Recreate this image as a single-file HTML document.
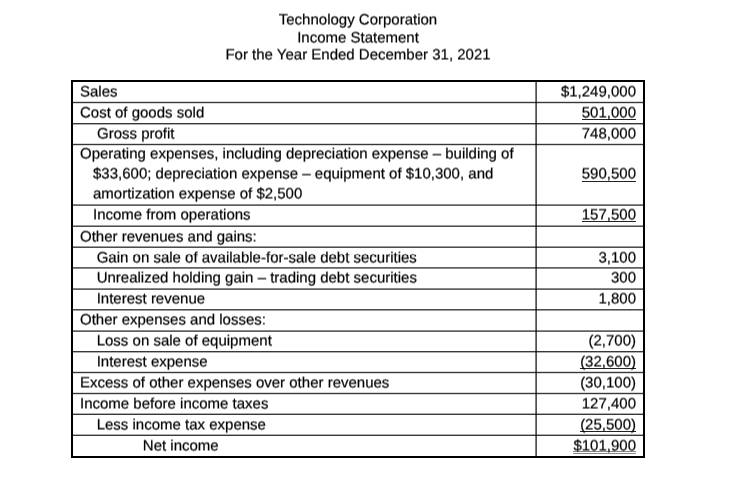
<!DOCTYPE html>
<html><head><meta charset="utf-8"><style>
html,body{margin:0;padding:0;background:#fff;}
body{width:730px;height:477px;position:relative;overflow:hidden;font-family:"Liberation Sans",sans-serif;color:#000;}
.l{position:absolute;mix-blend-mode:multiply;}
#tx{position:absolute;left:0;top:0;width:730px;height:477px;will-change:transform;transform:translate(0.0px,0.5px) rotate(0.001deg);}
.t{position:absolute;font-size:15px;line-height:20px;white-space:nowrap;text-rendering:geometricPrecision;-webkit-text-stroke:0.2px #000;}
.h{left:0;width:716px;text-align:center;}
.n{right:94px;text-align:right;}
</style></head><body>

<div class="l" style="left:71px;top:80px;width:574px;height:2px;background:#000"></div>
<div class="l" style="left:71px;top:456px;width:574px;height:2px;background:#000"></div>
<div class="l" style="left:71px;top:80px;width:2px;height:378px;background:#000"></div>
<div class="l" style="left:643px;top:80px;width:2px;height:378px;background:#000"></div>
<div class="l" style="left:73px;top:101px;width:570px;height:1px;background:rgb(215,215,215)"></div>
<div class="l" style="left:73px;top:102px;width:570px;height:1px;background:rgb(56,56,56)"></div>
<div class="l" style="left:73px;top:103px;width:570px;height:1px;background:rgb(215,215,215)"></div>
<div class="l" style="left:73px;top:123px;width:570px;height:1px;background:rgb(56,56,56)"></div>
<div class="l" style="left:73px;top:124px;width:570px;height:1px;background:rgb(175,175,175)"></div>
<div class="l" style="left:73px;top:143px;width:570px;height:1px;background:rgb(215,215,215)"></div>
<div class="l" style="left:73px;top:144px;width:570px;height:1px;background:rgb(56,56,56)"></div>
<div class="l" style="left:73px;top:145px;width:570px;height:1px;background:rgb(215,215,215)"></div>
<div class="l" style="left:73px;top:204px;width:570px;height:1px;background:rgb(136,136,136)"></div>
<div class="l" style="left:73px;top:205px;width:570px;height:1px;background:rgb(96,96,96)"></div>
<div class="l" style="left:73px;top:225px;width:570px;height:1px;background:rgb(156,156,156)"></div>
<div class="l" style="left:73px;top:226px;width:570px;height:1px;background:rgb(76,76,76)"></div>
<div class="l" style="left:73px;top:246px;width:570px;height:1px;background:rgb(156,156,156)"></div>
<div class="l" style="left:73px;top:247px;width:570px;height:1px;background:rgb(76,76,76)"></div>
<div class="l" style="left:73px;top:267px;width:570px;height:1px;background:rgb(96,96,96)"></div>
<div class="l" style="left:73px;top:268px;width:570px;height:1px;background:rgb(136,136,136)"></div>
<div class="l" style="left:73px;top:288px;width:570px;height:1px;background:rgb(136,136,136)"></div>
<div class="l" style="left:73px;top:289px;width:570px;height:1px;background:rgb(96,96,96)"></div>
<div class="l" style="left:73px;top:309px;width:570px;height:1px;background:rgb(76,76,76)"></div>
<div class="l" style="left:73px;top:310px;width:570px;height:1px;background:rgb(156,156,156)"></div>
<div class="l" style="left:73px;top:330px;width:570px;height:1px;background:rgb(136,136,136)"></div>
<div class="l" style="left:73px;top:331px;width:570px;height:1px;background:rgb(96,96,96)"></div>
<div class="l" style="left:73px;top:351px;width:570px;height:1px;background:rgb(56,56,56)"></div>
<div class="l" style="left:73px;top:352px;width:570px;height:1px;background:rgb(175,175,175)"></div>
<div class="l" style="left:73px;top:371px;width:570px;height:1px;background:rgb(215,215,215)"></div>
<div class="l" style="left:73px;top:372px;width:570px;height:1px;background:rgb(56,56,56)"></div>
<div class="l" style="left:73px;top:373px;width:570px;height:1px;background:rgb(215,215,215)"></div>
<div class="l" style="left:73px;top:392px;width:570px;height:1px;background:rgb(215,215,215)"></div>
<div class="l" style="left:73px;top:393px;width:570px;height:1px;background:rgb(56,56,56)"></div>
<div class="l" style="left:73px;top:394px;width:570px;height:1px;background:rgb(215,215,215)"></div>
<div class="l" style="left:73px;top:413px;width:570px;height:1px;background:rgb(175,175,175)"></div>
<div class="l" style="left:73px;top:414px;width:570px;height:1px;background:rgb(56,56,56)"></div>
<div class="l" style="left:73px;top:434px;width:570px;height:1px;background:rgb(175,175,175)"></div>
<div class="l" style="left:73px;top:435px;width:570px;height:1px;background:rgb(56,56,56)"></div>
<div class="l" style="left:535px;top:82px;width:1px;height:374px;background:rgb(125,125,125)"></div>
<div class="l" style="left:536px;top:82px;width:1px;height:374px;background:rgb(82,82,82)"></div>
<div class="l" style="left:581.8px;width:54.2px;top:119px;height:1px;background:#222"></div>
<div class="l" style="left:581.8px;width:54.2px;top:181px;height:1px;background:#222"></div>
<div class="l" style="left:581.8px;width:54.2px;top:221px;height:1px;background:#222"></div>
<div class="l" style="left:580.1px;width:55.9px;top:368px;height:1px;background:#222"></div>
<div class="l" style="left:580.1px;width:55.9px;top:431px;height:1px;background:#222"></div>
<div class="l" style="left:573.4px;width:62.6px;top:451px;height:1px;background:#888"></div>
<div class="l" style="left:573.4px;width:62.6px;top:453px;height:1px;background:#888"></div>
<div id="tx">
<div class="t h" style="top:10px">Technology Corporation</div>
<div class="t h" style="top:28px">Income Statement</div>
<div class="t h" style="top:45px">For the Year Ended December 31, 2021</div>
<div class="t" style="top:82px;left:80px">Sales</div>
<div class="t n" style="top:82px">$1,249,000</div>
<div class="t" style="top:103px;left:80px">Cost of goods sold</div>
<div class="t n" style="top:103px">501,000</div>
<div class="t" style="top:124px;left:97px">Gross profit</div>
<div class="t n" style="top:124px">748,000</div>
<div class="t" style="top:144px;left:80px">Operating expenses, including depreciation expense – building of</div>
<div class="t" style="top:164px;left:93px">$33,600; depreciation expense – equipment of $10,300, and</div>
<div class="t n" style="top:164px">590,500</div>
<div class="t" style="top:184px;left:93px">amortization expense of $2,500</div>
<div class="t" style="top:205px;left:93px">Income from operations</div>
<div class="t n" style="top:205px">157,500</div>
<div class="t" style="top:227px;left:80px">Other revenues and gains:</div>
<div class="t" style="top:248px;left:96.7px">Gain on sale of available-for-sale debt securities</div>
<div class="t n" style="top:248px">3,100</div>
<div class="t" style="top:268px;left:96.7px">Unrealized holding gain – trading debt securities</div>
<div class="t n" style="top:268px">300</div>
<div class="t" style="top:289px;left:96.7px">Interest revenue</div>
<div class="t n" style="top:289px">1,800</div>
<div class="t" style="top:310px;left:80px">Other expenses and losses:</div>
<div class="t" style="top:331px;left:96.7px">Loss on sale of equipment</div>
<div class="t n" style="top:331px">(2,700)</div>
<div class="t" style="top:352px;left:96.7px">Interest expense</div>
<div class="t n" style="top:352px">(32,600)</div>
<div class="t" style="top:373px;left:80px">Excess of other expenses over other revenues</div>
<div class="t n" style="top:373px">(30,100)</div>
<div class="t" style="top:394px;left:80px">Income before income taxes</div>
<div class="t n" style="top:394px">127,400</div>
<div class="t" style="top:415px;left:96.7px">Less income tax expense</div>
<div class="t n" style="top:415px">(25,500)</div>
<div class="t" style="top:436px;left:142.8px">Net income</div>
<div class="t n" style="top:436px">$101,900</div>
</div>
</body></html>
